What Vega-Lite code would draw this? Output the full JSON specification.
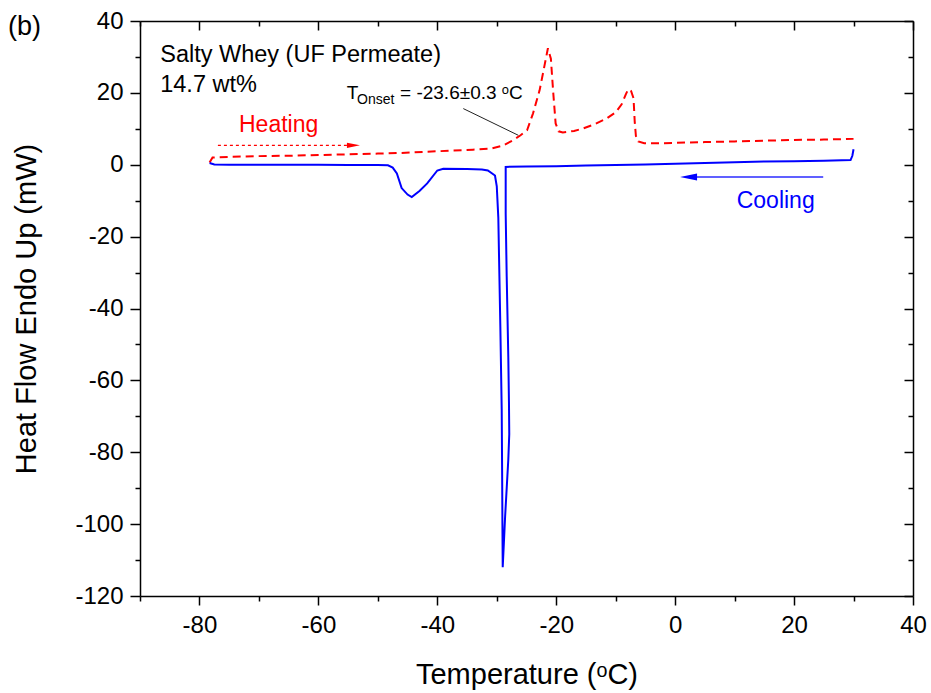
{
  "$schema": "https://vega.github.io/schema/vega-lite/v6.json",
  "width": 773,
  "height": 575,
  "autosize": {"type": "none"},
  "padding": {"left": 140, "top": 21, "right": 18, "bottom": 97},
  "background": "white",
  "config": {"view": {"stroke": null}, "font": "Liberation Sans"},
  "datasets": {
    "heating": [
      {"t": -78.3, "hf": 0.6}, {"t": -77.8, "hf": 2.0}, {"t": -75, "hf": 2.2}, {"t": -70, "hf": 2.4},
      {"t": -65, "hf": 2.5}, {"t": -60, "hf": 2.7}, {"t": -55, "hf": 2.9}, {"t": -50, "hf": 3.1},
      {"t": -46, "hf": 3.3}, {"t": -42, "hf": 3.6}, {"t": -38, "hf": 3.9}, {"t": -34, "hf": 4.2},
      {"t": -31, "hf": 4.5}, {"t": -29, "hf": 5.3}, {"t": -27.3, "hf": 6.8}, {"t": -26, "hf": 8.2},
      {"t": -24.9, "hf": 9.6}, {"t": -23.9, "hf": 14.3}, {"t": -22.8, "hf": 20.7}, {"t": -21.9, "hf": 28.2},
      {"t": -21.4, "hf": 32.4}, {"t": -20.9, "hf": 29.5}, {"t": -20.5, "hf": 20}, {"t": -20.1, "hf": 11.5},
      {"t": -19.6, "hf": 9.3}, {"t": -18.9, "hf": 9.0}, {"t": -17, "hf": 9.4}, {"t": -15.5, "hf": 10.1},
      {"t": -13.5, "hf": 11.3}, {"t": -11.5, "hf": 12.9}, {"t": -10, "hf": 14.6}, {"t": -9, "hf": 16.8},
      {"t": -8.3, "hf": 19.6}, {"t": -7.9, "hf": 21.0}, {"t": -7.4, "hf": 20.5}, {"t": -7.0, "hf": 18.5},
      {"t": -6.8, "hf": 12}, {"t": -6.6, "hf": 8}, {"t": -6.2, "hf": 6.5}, {"t": -5.2, "hf": 6.0},
      {"t": -2, "hf": 6.0}, {"t": 0, "hf": 6.1}, {"t": 5, "hf": 6.3}, {"t": 10, "hf": 6.5},
      {"t": 15, "hf": 6.7}, {"t": 20, "hf": 6.9}, {"t": 25, "hf": 7.0}, {"t": 30, "hf": 7.2}
    ],
    "cooling": [
      {"t": 30.0, "hf": 4.3}, {"t": 29.8, "hf": 2.5}, {"t": 29.5, "hf": 1.3}, {"t": 25, "hf": 1.1},
      {"t": 20, "hf": 1.0}, {"t": 15, "hf": 0.9}, {"t": 10, "hf": 0.7}, {"t": 5, "hf": 0.5},
      {"t": 0, "hf": 0.3}, {"t": -5, "hf": 0.1}, {"t": -10, "hf": -0.1}, {"t": -15, "hf": -0.2},
      {"t": -20, "hf": -0.4}, {"t": -25, "hf": -0.5}, {"t": -28.5, "hf": -0.6}, {"t": -28.5, "hf": -4},
      {"t": -28.5, "hf": -13.6}, {"t": -28.33, "hf": -31}, {"t": -28.06, "hf": -53.6}, {"t": -27.95, "hf": -66},
      {"t": -27.9, "hf": -75}, {"t": -28.06, "hf": -82}, {"t": -28.6, "hf": -98}, {"t": -28.8, "hf": -105},
      {"t": -29.0, "hf": -112}, {"t": -29.05, "hf": -100}, {"t": -29.1, "hf": -85}, {"t": -29.17, "hf": -68},
      {"t": -29.4, "hf": -45}, {"t": -29.74, "hf": -14.7}, {"t": -30.0, "hf": -6}, {"t": -30.3, "hf": -3.0},
      {"t": -31.5, "hf": -1.6}, {"t": -32.5, "hf": -1.3}, {"t": -35, "hf": -1.2}, {"t": -39, "hf": -1.1},
      {"t": -40, "hf": -1.6}, {"t": -41.7, "hf": -5.2}, {"t": -43, "hf": -7.3}, {"t": -44.3, "hf": -9.0},
      {"t": -45, "hf": -8.3}, {"t": -46, "hf": -6.5}, {"t": -46.8, "hf": -2.4}, {"t": -47.5, "hf": -0.8},
      {"t": -48.3, "hf": -0.15}, {"t": -50, "hf": -0.1}, {"t": -55, "hf": -0.1}, {"t": -60, "hf": 0.0},
      {"t": -65, "hf": 0.0}, {"t": -70, "hf": 0.0}, {"t": -75, "hf": 0.0}, {"t": -77.5, "hf": 0.1},
      {"t": -78.3, "hf": 0.5}
    ]
  },
  "layer": [
    {
      "data": {"name": "heating"},
      "mark": {"type": "line", "color": "#ff0000", "strokeWidth": 2, "strokeDash": [8, 5]},
      "encoding": {
        "x": {"field": "t", "type": "quantitative",
          "scale": {"domain": [-90, 40], "nice": false, "zero": false},
          "axis": {"orient": "bottom", "values": [-90, -80, -70, -60, -50, -40, -30, -20, -10, 0, 10, 20, 30, 40],
            "labelExpr": "datum.value % 20 === 0 ? '' + datum.value : ''",
            "tickSize": {"condition": {"test": "datum.value % 20 === 0", "value": 9}, "value": 5},
            "tickWidth": 1.5, "tickColor": "black", "domainColor": "black", "domainWidth": 1.5,
            "labelFontSize": 24, "labelFont": "Liberation Sans", "labelColor": "black", "labelPadding": 8,
            "labelFlush": false, "labelOverlap": false, "grid": false,
            "title": "Temperature (ᵒC)", "titleFontSize": 29, "titleFont": "Liberation Sans", "titleFontWeight": "normal",
            "titleColor": "black", "titleY": 87, "titleBaseline": "alphabetic"}},
        "y": {"field": "hf", "type": "quantitative",
          "scale": {"domain": [-120, 40], "nice": false, "zero": false},
          "axis": {"orient": "left", "values": [-120, -110, -100, -90, -80, -70, -60, -50, -40, -30, -20, -10, 0, 10, 20, 30, 40],
            "labelExpr": "datum.value % 20 === 0 ? '' + datum.value : ''",
            "tickSize": {"condition": {"test": "datum.value % 20 === 0", "value": 10}, "value": 5},
            "tickWidth": 1.5, "tickColor": "black", "domainColor": "black", "domainWidth": 1.5,
            "labelFontSize": 24, "labelFont": "Liberation Sans", "labelColor": "black", "labelPadding": 7,
            "labelFlush": false, "labelOverlap": false, "grid": false,
            "title": "Heat Flow Endo Up (mW)", "titleFontSize": 29, "titleFont": "Liberation Sans", "titleFontWeight": "normal",
            "titleColor": "black", "titleX": -105, "titleBaseline": "alphabetic"}},
        "order": {"value": null}
      }
    },
    {
      "data": {"name": "cooling"},
      "mark": {"type": "line", "color": "#0000ff", "strokeWidth": 2},
      "encoding": {
        "x": {"field": "t", "type": "quantitative",
          "axis": {"orient": "top", "values": [-90, -80, -70, -60, -50, -40, -30, -20, -10, 0, 10, 20, 30, 40],
            "labels": false, "title": null, "grid": false,
            "tickSize": {"condition": {"test": "datum.value % 20 === 0", "value": -9}, "value": -5},
            "tickWidth": 1.5, "tickColor": "black", "domainColor": "black", "domainWidth": 1.5}},
        "y": {"field": "hf", "type": "quantitative",
          "axis": {"orient": "right", "values": [-120, -110, -100, -90, -80, -70, -60, -50, -40, -30, -20, -10, 0, 10, 20, 30, 40],
            "labels": false, "title": null, "grid": false,
            "tickSize": {"condition": {"test": "datum.value % 20 === 0", "value": -9}, "value": -5},
            "tickWidth": 1.5, "tickColor": "black", "domainColor": "black", "domainWidth": 1.5}},
        "order": {"value": null}
      }
    },
    {
      "data": {"values": [{"t": -35.63, "hf": 15.63}, {"t": -26.38, "hf": 8.2}]},
      "mark": {"type": "line", "color": "#222222", "strokeWidth": 1},
      "encoding": {
        "x": {"field": "t", "type": "quantitative", "axis": null},
        "y": {"field": "hf", "type": "quantitative", "axis": null}
      }
    },
    {
      "data": {"values": [{"t": -76.9, "hf": 5.4}, {"t": -55.0, "hf": 5.4}]},
      "mark": {"type": "line", "color": "#ff0000", "strokeWidth": 1.2, "strokeDash": [3, 3]},
      "encoding": {
        "x": {"field": "t", "type": "quantitative", "axis": null},
        "y": {"field": "hf", "type": "quantitative", "axis": null}
      }
    },
    {
      "data": {"values": [{"t": -54.1, "hf": 5.4}]},
      "mark": {"type": "point", "shape": "M-1,-0.4L1,0L-1,0.4Z", "size": 169, "filled": true, "color": "#ff0000", "opacity": 1},
      "encoding": {
        "x": {"field": "t", "type": "quantitative", "axis": null},
        "y": {"field": "hf", "type": "quantitative", "axis": null}
      }
    },
    {
      "data": {"values": [{"t": 2.5, "hf": -3.41}, {"t": 24.9, "hf": -3.41}]},
      "mark": {"type": "line", "color": "#6060ff", "strokeWidth": 2},
      "encoding": {
        "x": {"field": "t", "type": "quantitative", "axis": null},
        "y": {"field": "hf", "type": "quantitative", "axis": null}
      }
    },
    {
      "data": {"values": [{"t": 2.25, "hf": -3.41}]},
      "mark": {"type": "point", "shape": "M1,-0.4L-1,0L1,0.4Z", "size": 289, "filled": true, "color": "#0000ff", "opacity": 1},
      "encoding": {
        "x": {"field": "t", "type": "quantitative", "axis": null},
        "y": {"field": "hf", "type": "quantitative", "axis": null}
      }
    },
    {
      "data": {"values": [{"t": -112.2, "hf": 36.0, "label": "(b)"}]},
      "mark": {"type": "text", "align": "left", "baseline": "alphabetic", "fontSize": 27, "font": "Liberation Sans", "color": "black"},
      "encoding": {
        "x": {"field": "t", "type": "quantitative", "axis": null},
        "y": {"field": "hf", "type": "quantitative", "axis": null},
        "text": {"field": "label"}
      }
    },
    {
      "data": {"values": [{"t": -86.6, "hf": 28.6, "label": "Salty Whey (UF Permeate)"}, {"t": -86.6, "hf": 20.25, "label": "14.7 wt%"}]},
      "mark": {"type": "text", "align": "left", "baseline": "alphabetic", "fontSize": 23.5, "font": "Liberation Sans", "color": "black"},
      "encoding": {
        "x": {"field": "t", "type": "quantitative", "axis": null},
        "y": {"field": "hf", "type": "quantitative", "axis": null},
        "text": {"field": "label"}
      }
    },
    {
      "data": {"values": [{"t": -55.24, "hf": 18.4, "label": "T"}, {"t": -46.27, "hf": 18.4, "label": "= -23.6±0.3 ᵒC"}]},
      "mark": {"type": "text", "align": "left", "baseline": "alphabetic", "fontSize": 19, "font": "Liberation Sans", "color": "black"},
      "encoding": {
        "x": {"field": "t", "type": "quantitative", "axis": null},
        "y": {"field": "hf", "type": "quantitative", "axis": null},
        "text": {"field": "label"}
      }
    },
    {
      "data": {"values": [{"t": -53.5, "hf": 17.0, "label": "Onset"}]},
      "mark": {"type": "text", "align": "left", "baseline": "alphabetic", "fontSize": 14, "font": "Liberation Sans", "color": "black"},
      "encoding": {
        "x": {"field": "t", "type": "quantitative", "axis": null},
        "y": {"field": "hf", "type": "quantitative", "axis": null},
        "text": {"field": "label"}
      }
    },
    {
      "data": {"values": [{"t": -73.35, "hf": 9.12, "label": "Heating"}]},
      "mark": {"type": "text", "align": "left", "baseline": "alphabetic", "fontSize": 23, "font": "Liberation Sans", "color": "#ff0000"},
      "encoding": {
        "x": {"field": "t", "type": "quantitative", "axis": null},
        "y": {"field": "hf", "type": "quantitative", "axis": null},
        "text": {"field": "label"}
      }
    },
    {
      "data": {"values": [{"t": 10.35, "hf": -11.92, "label": "Cooling"}]},
      "mark": {"type": "text", "align": "left", "baseline": "alphabetic", "fontSize": 23, "font": "Liberation Sans", "color": "#0000ff"},
      "encoding": {
        "x": {"field": "t", "type": "quantitative", "axis": null},
        "y": {"field": "hf", "type": "quantitative", "axis": null},
        "text": {"field": "label"}
      }
    }
  ],
  "resolve": {"axis": {"x": "independent", "y": "independent"}}
}
